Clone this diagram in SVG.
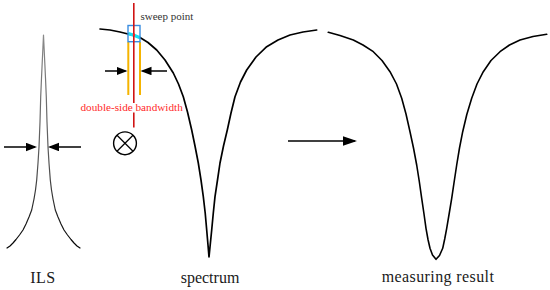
<svg xmlns="http://www.w3.org/2000/svg" width="550" height="290" viewBox="0 0 550 290">
<style>
  .curve{fill:none;stroke:#000;stroke-linejoin:round;stroke-linecap:round}
  .lbl{font-family:"Liberation Serif","Times New Roman",serif;fill:#1a1a1a;text-anchor:middle}
  .arr{stroke:#000;stroke-width:1.5;fill:none}
</style>
<defs>
  <linearGradient id="ilsg" gradientUnits="userSpaceOnUse" x1="0" y1="35" x2="0" y2="250">
    <stop offset="0" stop-color="#8a8a8a"/>
    <stop offset="0.6" stop-color="#555"/>
    <stop offset="1" stop-color="#000"/>
  </linearGradient>
  <marker id="ah" markerUnits="userSpaceOnUse" markerWidth="12" markerHeight="9" refX="9" refY="4.25" orient="auto">
    <path d="M0,0 L11,4.25 L0,8.5 z" fill="#000"/>
  </marker>
  <marker id="ahb" markerUnits="userSpaceOnUse" markerWidth="15" markerHeight="10" refX="12" refY="4.75" orient="auto">
    <path d="M0,0 L14,4.75 L0,9.5 z" fill="#000"/>
  </marker>
</defs>

<g id="ils">
  <path class="curve" stroke="url(#ilsg)" style="stroke:url(#ilsg)" stroke-width="1.2"
    d="M7,248 L10,246 L13,243 L16,239.5 L19.5,235 L23,230 L26,224 L29,217 L31.7,210 L34,199 L35.5,190 L36.7,180 L38,163 L39,147 L40,122 L40.7,97 L41.5,78 L42.2,63 L42.9,48 L43.5,35 L44.1,48 L44.8,63 L45.5,78 L46.3,97 L47,122 L48,147 L49,163 L50.3,180 L51.5,190 L53,199 L55.3,210 L58,217 L61,224 L64,230 L67.5,235 L71,239.5 L74,243 L77,246 L80,248"/>
  <text class="lbl" x="43" y="283" font-size="16" letter-spacing="0.5">ILS</text>
</g>

<g id="spectrum">
  <path class="curve" stroke-width="1.7"
    d="M100,29 L110,30 L120,32 L130,34.5 L140,37.5 L148,42.5 L156.7,50 L165,60 L173.3,73 L178.5,84 L183.3,96.7 L187.5,112 L191.7,130 L195,146 L198.3,163 L201,180 L203.3,196.7 L205.2,213 L206.7,230 L208,245 L209,257 L210.2,245 L211.7,230 L213.3,213 L215,196.7 L217.5,180 L220,163 L223.5,146 L227.3,130 L231,113 L235,96.7 L240.5,82 L246.7,70 L256,57 L266.7,46.7 L278,40 L290,35 L303,32 L316.7,30"/>
  <text class="lbl" x="210" y="283" font-size="16">spectrum</text>
</g>

<g id="sweep-point">
  <line x1="128.3" y1="42" x2="128.3" y2="95" stroke="#f5b400" stroke-width="2"/>
  <line x1="140" y1="42" x2="140" y2="95" stroke="#f5b400" stroke-width="2"/>
  <path d="M128.3,33.6 L134,35.2 L140,37.8" fill="none" stroke="#16e0f2" stroke-width="3.2"/>
  <rect x="128" y="25.5" width="12" height="16.2" fill="none" stroke="#3a8de0" stroke-width="1.4"/>
  <line x1="133.8" y1="3" x2="133.8" y2="103" stroke="#d01414" stroke-width="1.6"/>
  <line x1="133.8" y1="112.5" x2="133.8" y2="127.5" stroke="#d01414" stroke-width="1.6"/>
  <rect x="132.8" y="33.6" width="2.2" height="2.2" fill="#ff2020"/>
  <text x="140.5" y="19.5" font-family="Liberation Serif, Times New Roman, serif" font-size="11" fill="#333">sweep point</text>
</g>

<g id="bandwidth">
  <text x="80.5" y="111" font-family="Liberation Serif, Times New Roman, serif" font-size="11.2" fill="#ff2a2a">double-side bandwidth</text>
</g>

<g id="convolution">
  <circle cx="125" cy="143.3" r="11.4" fill="none" stroke="#000" stroke-width="1.4"/>
  <line x1="117" y1="135.3" x2="133" y2="151.3" stroke="#000" stroke-width="1.3"/>
  <line x1="133" y1="135.3" x2="117" y2="151.3" stroke="#000" stroke-width="1.3"/>
</g>

<g id="result">
  <path class="curve" stroke-width="1.6"
    d="M328.3,32.3 L340,35.5 L353.3,40 L363,45 L373.3,51.7 L382,60.5 L390,71.7 L396.5,84 L401.7,98.3 L406,114 L410,131.7 L413.5,148 L416.7,165 L419.3,181.5 L421.7,198.3 L424,214 L426,228.3 L428,239.5 L430,248.3 L432.5,255 L436,259.3 L439.5,255.5 L442.7,248.3 L444.7,239 L446.7,228.3 L449.2,213.5 L451.7,198.3 L454.2,181.5 L456.7,165 L459.5,148 L462.7,131.7 L466.8,114.5 L471.7,98.3 L477,84 L483.3,71.7 L491,60.5 L500,51.7 L509.5,45 L520,40 L533,36.5 L546.7,34.3"/>
  <text class="lbl" x="438" y="282" font-size="16" letter-spacing="0.4">measuring result</text>
</g>

<g id="connectors">
  <line class="arr" x1="4" y1="147" x2="35" y2="147" marker-end="url(#ah)"/>
  <line class="arr" x1="81" y1="147" x2="50" y2="147" marker-end="url(#ah)"/>
  <line class="arr" x1="105" y1="71" x2="125.5" y2="71" marker-end="url(#ah)"/>
  <line class="arr" x1="167" y1="71" x2="142.5" y2="71" marker-end="url(#ah)"/>
  <line class="arr" x1="288" y1="141" x2="355" y2="141" marker-end="url(#ahb)"/>
</g>
</svg>
